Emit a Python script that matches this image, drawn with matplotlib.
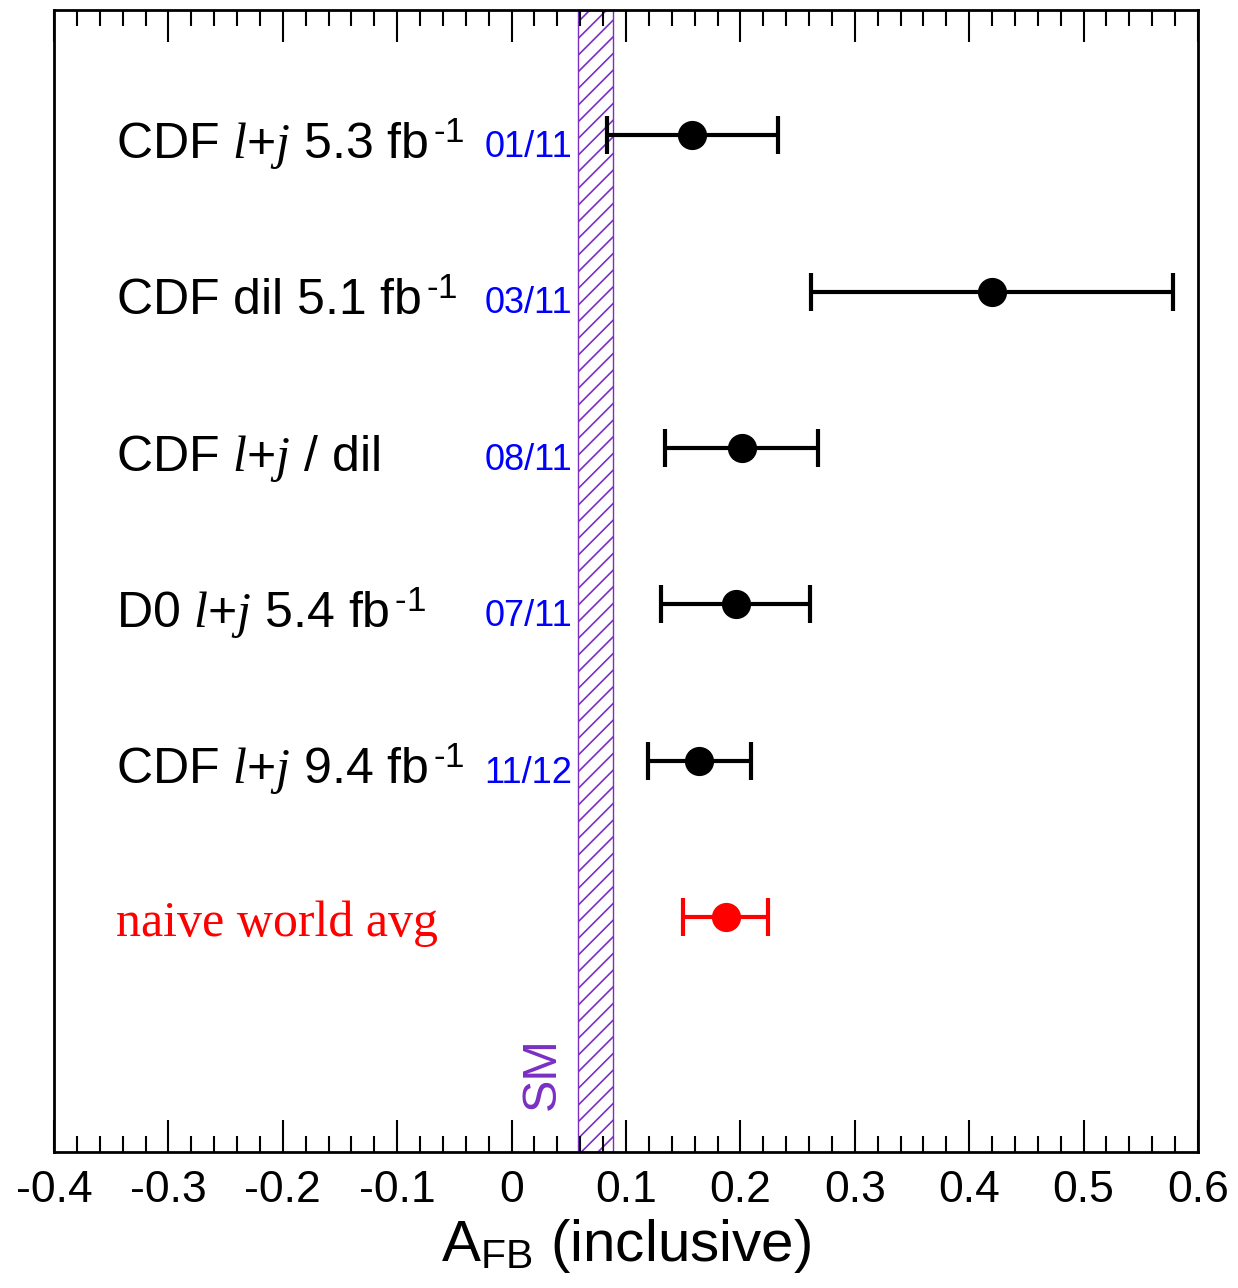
import numpy as np
import matplotlib
matplotlib.use("Agg")
import matplotlib.pyplot as plt
from matplotlib.ticker import MultipleLocator

# measurements (A_FB inclusive)
labels = [r"CDF $l$+$j$ 5.3 fb$^{\,\text{-1}}$",
          r"CDF dil 5.1 fb$^{\,\text{-1}}$",
          r"CDF $l$+$j$ / dil",
          r"D0 $l$+$j$ 5.4 fb$^{\,\text{-1}}$",
          r"CDF $l$+$j$ 9.4 fb$^{\,\text{-1}}$"]
dates = ["01/11", "03/11", "08/11", "07/11", "11/12"]
afb = [0.158, 0.420, 0.201, 0.196, 0.164]
afb_err = [0.075, 0.158, 0.067, 0.065, 0.045]
rows = [7, 6, 5, 4, 3]

avg_label = "naive world avg"
avg_val = 0.187
avg_err = 0.037
avg_row = 2

sm_lo, sm_hi = 0.058, 0.089

plt.rcParams["font.family"] = ["Liberation Sans", "DejaVu Sans"]
plt.rcParams["mathtext.fontset"] = "custom"
plt.rcParams["mathtext.rm"] = "Liberation Sans"
plt.rcParams["mathtext.it"] = "Liberation Serif:italic"
plt.rcParams["mathtext.bf"] = "Liberation Sans:bold"
plt.rcParams["axes.unicode_minus"] = False
plt.rcParams["hatch.linewidth"] = 1.2

purple = "#7a2fc4"

fig = plt.figure(figsize=(12.38, 12.88), dpi=100)
ax = fig.add_axes([54 / 1238, 1 - 1152 / 1288, 1144 / 1238, 1142 / 1288])

# SM band
ax.axvspan(sm_lo, sm_hi, facecolor="none", edgecolor=purple, hatch="//", lw=1.0, zorder=1)
ax.text(0.027, 1.0, "SM", color=purple, fontsize=35, rotation=90, ha="center", va="center")

ax.errorbar(afb, rows, xerr=afb_err, fmt="o", color="black", ms=20, elinewidth=3,
            capsize=13.5, capthick=3, zorder=3)
ax.errorbar([avg_val], [avg_row], xerr=[avg_err], fmt="o", color="red", ms=20,
            elinewidth=3, capsize=13.5, capthick=3, zorder=3)

for lab, d, r in zip(labels, dates, rows):
    ax.text(-0.346, r - 0.15, lab, fontsize=36, ha="left", va="baseline")
    ax.text(0.053, r - 0.14, d, fontsize=26, color="blue", ha="right", va="baseline")
ax.text(-0.346, avg_row - 0.12, avg_label, fontsize=36, color="red", ha="left",
        va="baseline", family="Liberation Serif")

ax.set_xlim(-0.4, 0.6)
ax.set_ylim(0.5, 7.8)
ax.set_yticks([])
ax.xaxis.set_major_locator(MultipleLocator(0.1))
ax.xaxis.set_minor_locator(MultipleLocator(0.02))
ax.set_xticks(np.arange(-0.4, 0.61, 0.1))
ax.set_xticklabels(["-0.4", "-0.3", "-0.2", "-0.1", "0", "0.1", "0.2", "0.3", "0.4", "0.5", "0.6"])
ax.tick_params(axis="x", which="both", direction="in", top=True, bottom=True,
               labelsize=32, pad=13)
ax.tick_params(axis="x", which="major", length=23, width=1.5)
ax.tick_params(axis="x", which="minor", length=11.5, width=1.5)
for s in ax.spines.values():
    s.set_linewidth(2)
ax.set_xlabel(r"A$_{\rm FB}$ (inclusive)", fontsize=42, labelpad=4)

fig.savefig("out.png", dpi=100)
